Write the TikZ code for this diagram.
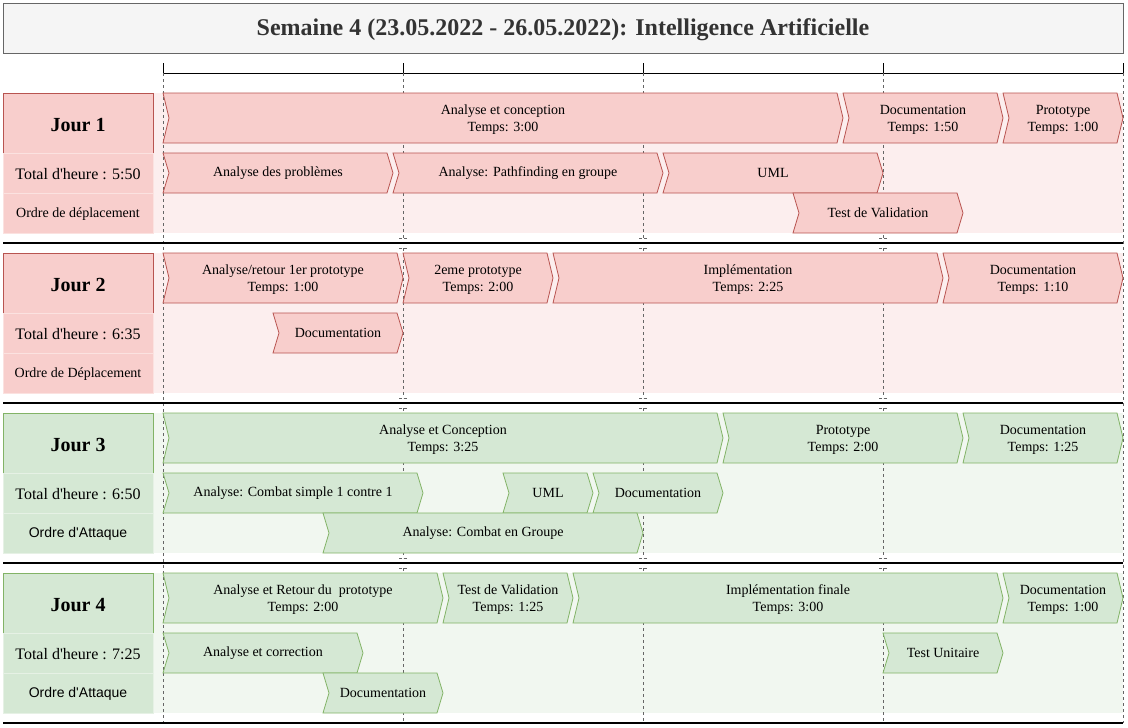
\documentclass[tikz,border=0pt]{standalone}
\usepackage{fontspec}
\setmainfont{Liberation Serif}[Ligatures=TeXOff]
\newfontfamily\arialf{Liberation Sans}
\definecolor{rfill}{HTML}{F8CECC}
\definecolor{rline}{HTML}{B85450}
\definecolor{rbg}{HTML}{FCEEEE}
\definecolor{gfill}{HTML}{D5E8D4}
\definecolor{gline}{HTML}{82B366}
\definecolor{gbg}{HTML}{F1F7F0}
\definecolor{tfill}{HTML}{F5F5F5}
\definecolor{tline}{HTML}{666666}
\definecolor{ttext}{HTML}{333333}
\tikzset{
  rchev/.style={fill=rfill,draw=rline,line width=0.8pt,line join=miter},
  gchev/.style={fill=gfill,draw=gline,line width=0.8pt,line join=miter},
  chevtext/.style={inner sep=0pt,align=center,font=\fontsize{14}{17}\selectfont},
  grid line/.style={draw=tline,dash pattern=on 3pt off 3pt,line width=0.6pt},
  sep line/.style={draw=black,line width=1.2pt},
  daylabel/.style={inner sep=0pt,font=\bfseries\fontsize{20}{24}\selectfont},
  celltext/.style={inner sep=0pt,font=\fontsize{16}{19}\selectfont},
  ordretext/.style={inner sep=0pt,font=\fontsize{14}{17}\selectfont},
  jourbox/.style={line width=0.8pt,minimum width=150pt,minimum height=60pt,inner sep=0pt},
  cellbox/.style={minimum width=150pt,minimum height=40pt,inner sep=0pt},
}
\newcommand\mychev[7]{%
  \draw[#6] (#2,#4) -- ({#3-6},#4) -- (#3,{(#4+#5)/2}) -- ({#3-6},#5) -- (#2,#5) -- ({#2+6},{(#4+#5)/2}) -- cycle;
  \node[chevtext] (#1) at ({(#2+#3)/2},{(#4+#5)/2+((#5-#4)>45)*1.5}) {#7};}
\begin{document}
\begin{tikzpicture}[x=1pt,y=-1pt]
\useasboundingbox (0,0) rectangle (1128,728);
% title
\draw[draw=tline,fill=tfill,line width=0.8pt] (3,3) rectangle (1123,53);
\node[inner sep=0pt,text=ttext,font=\bfseries\fontsize{24}{28}\selectfont] (title) at (563,30) {Semaine 4 (23.05.2022 - 26.05.2022): Intelligence Artificielle};
% lane backgrounds
\fill[rbg] (153,93) rectangle (1123,233);
\fill[rbg] (153,253) rectangle (1123,393);
\fill[gbg] (153,413) rectangle (1123,553);
\fill[gbg] (153,573) rectangle (1123,713);
% axis
\coordinate (a0) at (163,73);
\coordinate (a4) at (1123,73);
\draw[line width=0.8pt] (a0) -- (a4);
\foreach \x in {163,403,643,883,1123} {\draw[line width=0.8pt] (\x,63) -- (\x,73);}
% grid lines
\foreach \x in {163,1123} {\draw[grid line] (\x,73) -- (\x,723);}
\foreach \x in {403,643,883} {
  \draw[grid line] (\x,73) -- (\x,238);
  \draw[grid line] (\x,248) -- (\x,398);
  \draw[grid line] (\x,408) -- (\x,558);
  \draw[grid line] (\x,568) -- (\x,723);
  \foreach \y in {238,248,398,408,558,568} {\draw[draw=tline,line width=0.6pt] (\x-4,\y) -- (\x-1,\y) (\x+1,\y) -- (\x+4,\y);}
}
% separators
\foreach \y in {243,403,563,723} {\draw[sep line] (3,\y) -- (1123,\y);}
% ---------- Day 1
\node[jourbox,draw=rline,fill=rfill] (j1b) at (78,123) {};
\node[daylabel] (j1) at (78,125) {Jour 1};
\node[cellbox,draw=rfill!60!white,fill=rfill] (t1b) at (78,173) {};
\node[celltext] (t1) at (78,174) {Total d'heure : 5:50};
\node[cellbox,draw=rfill!60!white,fill=rfill] (o1b) at (78,213) {};
\node[ordretext] (o1) at (78,214) {Ordre de déplacement};
\mychev{d1a}{163}{843}{93}{143}{rchev}{Analyse et conception\\Temps: 3:00}
\mychev{d1b}{843}{1003}{93}{143}{rchev}{Documentation\\Temps: 1:50}
\mychev{d1c}{1003}{1123}{93}{143}{rchev}{Prototype\\Temps: 1:00}
\mychev{d1d}{163}{393}{153}{193}{rchev}{Analyse des problèmes}
\mychev{d1e}{393}{663}{153}{193}{rchev}{Analyse: Pathfinding en groupe}
\mychev{d1f}{663}{883}{153}{193}{rchev}{UML}
\mychev{d1g}{793}{963}{193}{233}{rchev}{Test de Validation}
% ---------- Day 2
\node[jourbox,draw=rline,fill=rfill] (j2b) at (78,283) {};
\node[daylabel] (j2) at (78,285) {Jour 2};
\node[cellbox,draw=rfill!60!white,fill=rfill] (t2b) at (78,333) {};
\node[celltext] (t2) at (78,334) {Total d'heure : 6:35};
\node[cellbox,draw=rfill!60!white,fill=rfill] (o2b) at (78,373) {};
\node[ordretext] (o2) at (78,374) {Ordre de Déplacement};
\mychev{d2a}{163}{403}{253}{303}{rchev}{Analyse/retour 1er prototype\\Temps: 1:00}
\mychev{d2b}{403}{553}{253}{303}{rchev}{2eme prototype\\Temps: 2:00}
\mychev{d2c}{553}{943}{253}{303}{rchev}{Implémentation\\Temps: 2:25}
\mychev{d2d}{943}{1123}{253}{303}{rchev}{Documentation\\Temps: 1:10}
\mychev{d2e}{273}{403}{313}{353}{rchev}{Documentation}
% ---------- Day 3
\node[jourbox,draw=gline,fill=gfill] (j3b) at (78,443) {};
\node[daylabel] (j3) at (78,445) {Jour 3};
\node[cellbox,draw=gfill!60!white,fill=gfill] (t3b) at (78,493) {};
\node[celltext] (t3) at (78,494) {Total d'heure : 6:50};
\node[cellbox,draw=gfill!60!white,fill=gfill] (o3b) at (78,533) {};
\node[ordretext,font=\arialf\fontsize{14}{17}\selectfont] (o3) at (78,534) {Ordre d'Attaque};
\mychev{d3a}{163}{723}{413}{463}{gchev}{Analyse et Conception\\Temps: 3:25}
\mychev{d3b}{723}{963}{413}{463}{gchev}{Prototype\\Temps: 2:00}
\mychev{d3c}{963}{1123}{413}{463}{gchev}{Documentation\\Temps: 1:25}
\mychev{d3d}{163}{423}{473}{513}{gchev}{Analyse: Combat simple 1 contre 1}
\mychev{d3e}{503}{593}{473}{513}{gchev}{UML}
\mychev{d3f}{593}{723}{473}{513}{gchev}{Documentation}
\mychev{d3g}{323}{643}{513}{553}{gchev}{Analyse: Combat en Groupe}
% ---------- Day 4
\node[jourbox,draw=gline,fill=gfill] (j4b) at (78,603) {};
\node[daylabel] (j4) at (78,605) {Jour 4};
\node[cellbox,draw=gfill!60!white,fill=gfill] (t4b) at (78,653) {};
\node[celltext] (t4) at (78,654) {Total d'heure : 7:25};
\node[cellbox,draw=gfill!60!white,fill=gfill] (o4b) at (78,693) {};
\node[ordretext,font=\arialf\fontsize{14}{17}\selectfont] (o4) at (78,694) {Ordre d'Attaque};
\mychev{d4a}{163}{443}{573}{623}{gchev}{Analyse et Retour du\ \ prototype\\Temps: 2:00}
\mychev{d4b}{443}{573}{573}{623}{gchev}{Test de Validation\\Temps: 1:25}
\mychev{d4c}{573}{1003}{573}{623}{gchev}{Implémentation finale\\Temps: 3:00}
\mychev{d4d}{1003}{1123}{573}{623}{gchev}{Documentation\\Temps: 1:00}
\mychev{d4e}{163}{363}{633}{673}{gchev}{Analyse et correction}
\mychev{d4f}{883}{1003}{633}{673}{gchev}{Test Unitaire}
\mychev{d4g}{323}{443}{673}{713}{gchev}{Documentation}
\end{tikzpicture}
\end{document}
